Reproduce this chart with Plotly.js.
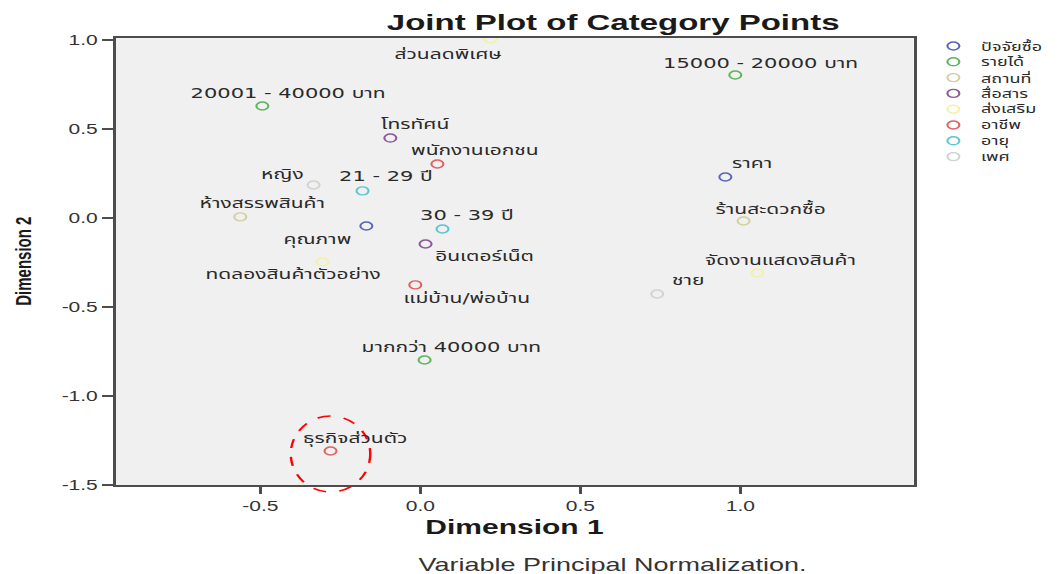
<!DOCTYPE html>
<html>
<head>
<meta charset="utf-8">
<script src="https://cdn.plot.ly/plotly-3.0.1.min.js"></script>
<style>
  html, body { margin: 0; padding: 0; background: #ffffff; overflow: hidden; }
  /* the chart is laid out narrow and then widened, giving the wide SPSS-style look */
  #chart { width: 706px; height: 574px; transform: scaleX(1.5); transform-origin: 0 0; }
</style>
</head>
<body>
<div id="chart"></div>
<script>
// Variable groups (legend order)
const groups = ['ปัจจัยซื้อ', 'รายได้', 'สถานที่', 'สื่อสาร', 'ส่งเสริม', 'อาชีพ', 'อายุ', 'เพศ'];

// Category points
const pointLabels = [
  'ราคา', 'คุณภาพ',
  '15000 - 20000 บาท', '20001 - 40000 บาท', 'มากกว่า 40000 บาท',
  'ห้างสรรพสินค้า', 'ร้านสะดวกซื้อ',
  'โทรทัศน์', 'อินเตอร์เน็ต',
  'ส่วนลดพิเศษ', 'ทดลองสินค้าตัวอย่าง', 'จัดงานแสดงสินค้า',
  'พนักงานเอกชน', 'แม่บ้าน/พ่อบ้าน', 'ธุรกิจส่วนตัว',
  '21 - 29 ปี', '30 - 39 ปี',
  'หญิง', 'ชาย'
];
const pointGroups = [
  'ปัจจัยซื้อ', 'ปัจจัยซื้อ',
  'รายได้', 'รายได้', 'รายได้',
  'สถานที่', 'สถานที่',
  'สื่อสาร', 'สื่อสาร',
  'ส่งเสริม', 'ส่งเสริม', 'ส่งเสริม',
  'อาชีพ', 'อาชีพ', 'อาชีพ',
  'อายุ', 'อายุ',
  'เพศ', 'เพศ'
];
const dim1 = [
  0.953, -0.169,
  0.984, -0.494, 0.013,
  -0.563, 1.010,
  -0.094, 0.016,
  0.219, -0.306, 1.053,
  0.053, -0.016, -0.281,
  -0.181, 0.069,
  -0.334, 0.740
];
const dim2 = [
  0.230, -0.045,
  0.803, 0.629, -0.798,
  0.006, -0.017,
  0.449, -0.146,
  1.006, -0.247, -0.309,
  0.303, -0.376, -1.309,
  0.152, -0.062,
  0.185, -0.427
];

// Axis ticks
const xTicks = [-0.5, 0.0, 0.5, 1.0];
const yTicks = [-1.5, -1.0, -0.5, 0.0, 0.5, 1.0];

// Highlighted category
const highlighted = 'ธุรกิจส่วนตัว';

// ---- styling ----
const groupColors = ['#5a68b4', '#5cb65c', '#d3d0a0', '#8a5a96', '#f3f1a6', '#df6262', '#5cc6d0', '#d2d2d2'];
// label offsets [xshift, yshift] in px, relative to each point
const labelShift = [
  [18, 14], [-33, -14],
  [17, 12], [17, 13], [18, 13],
  [15, 14], [18, 13],
  [17, 14], [39, -12],
  [-28, -15], [-20, -12], [16, 13],
  [25, 14], [34, -13], [17, 13],
  [16, 15], [16, 14],
  [-21, 11], [21, 14]
];
const thaiFont = "'DejaVu Sans', 'Noto Sans Thai', 'Noto Sans', sans-serif";
const latinFont = "'Liberation Sans', Arial, sans-serif";
const axisColor = '#4d4d4d';
const xRange = [-0.953, 1.541];
const yRange = [-1.5, 1.011];

const traces = groups.map((g, gi) => {
  const idx = pointGroups.map((pg, i) => pg === g ? i : -1).filter(i => i >= 0);
  return {
    type: 'scatter',
    mode: 'markers',
    name: g,
    x: idx.map(i => dim1[i]),
    y: idx.map(i => dim2[i]),
    text: idx.map(i => pointLabels[i]),
    marker: { symbol: 'circle-open', size: 8, color: groupColors[gi], line: { width: 1.4, color: groupColors[gi] } },
    showlegend: false,
    hoverinfo: 'text'
  };
});

const annotations = pointLabels.map((t, i) => ({
  x: dim1[i], y: dim2[i], xref: 'x', yref: 'y',
  text: t, showarrow: false,
  xshift: labelShift[i][0], yshift: labelShift[i][1],
  font: { family: thaiFont, size: 14, color: '#2a2a2a' }
}));

// footnote
annotations.push({
  xref: 'paper', yref: 'paper', x: 0.623, y: -0.179, xanchor: 'center', yanchor: 'middle',
  text: 'Variable Principal Normalization.', showarrow: false,
  font: { family: latinFont, size: 18, color: '#333333' }
});

// y-axis title, set close to the page edge
annotations.push({
  xref: 'paper', yref: 'paper', x: -0.116, y: 0.5, xanchor: 'center', yanchor: 'middle',
  text: 'Dimension 2', textangle: -90, showarrow: false,
  font: { family: "'Liberation Sans Narrow', " + latinFont, size: 15, color: '#1a1a1a', weight: 'bold' }
});

const shapes = [];

// group key on the right
groups.forEach((g, gi) => {
  const yp = 1 - (8 + gi * 15.8) / 447;
  shapes.push({
    type: 'circle', xref: 'paper', yref: 'paper',
    xsizemode: 'pixel', ysizemode: 'pixel',
    xanchor: 1.050, yanchor: yp, x0: -4, x1: 4, y0: -4, y1: 4,
    line: { color: groupColors[gi], width: 1.4 }
  });
  annotations.push({
    xref: 'paper', yref: 'paper', x: 1.081, y: yp, xanchor: 'left', yanchor: 'middle',
    text: g, showarrow: false,
    font: { family: thaiFont, size: 12, color: '#2a2a2a' }
  });
});

// dashed ring around the highlighted category (paper-referenced so it may run past the axis line)
const hi = pointLabels.indexOf(highlighted);
shapes.push({
  type: 'circle', xref: 'paper', yref: 'paper',
  xsizemode: 'pixel', ysizemode: 'pixel',
  xanchor: (dim1[hi] - xRange[0]) / (xRange[1] - xRange[0]),
  yanchor: (dim2[hi] - yRange[0]) / (yRange[1] - yRange[0]),
  x0: -26.5, x1: 26.5, y0: -41, y1: 35,
  line: { color: '#ff0000', width: 1.6, dash: 'dash' }
});

const layout = {
  width: 706, height: 574,
  margin: { l: 76.7, r: 97.3, t: 38, b: 89, pad: 0 },
  paper_bgcolor: '#ffffff',
  plot_bgcolor: '#f0f0f0',
  showlegend: false,
  title: {
    text: 'Joint Plot of Category Points',
    font: { family: latinFont, size: 22, color: '#1a1a1a', weight: 'bold' },
    x: 0.579, xref: 'container', xanchor: 'center',
    y: 0.9617, yref: 'container', yanchor: 'middle'
  },
  xaxis: {
    range: xRange,
    tickvals: xTicks, ticktext: xTicks.map(v => v.toFixed(1)),
    showgrid: false, zeroline: false,
    showline: true, linewidth: 2, linecolor: axisColor, mirror: true,
    ticks: 'outside', ticklen: 7, tickwidth: 2, tickcolor: axisColor,
    tickfont: { family: latinFont, size: 14, color: '#333333' },
    title: { text: 'Dimension 1', standoff: 7, font: { family: latinFont, size: 20, color: '#1a1a1a', weight: 'bold' } }
  },
  yaxis: {
    range: yRange,
    tickvals: yTicks, ticktext: yTicks.map(v => v.toFixed(1)),
    showgrid: false, zeroline: false,
    showline: true, linewidth: 2, linecolor: axisColor, mirror: true,
    ticks: 'outside', ticklen: 7, tickwidth: 2, tickcolor: axisColor,
    tickfont: { family: latinFont, size: 14, color: '#333333' }
  },
  annotations: annotations,
  shapes: shapes
};

Plotly.newPlot('chart', traces, layout, { displayModeBar: false, staticPlot: true });
</script>
</body>
</html>
